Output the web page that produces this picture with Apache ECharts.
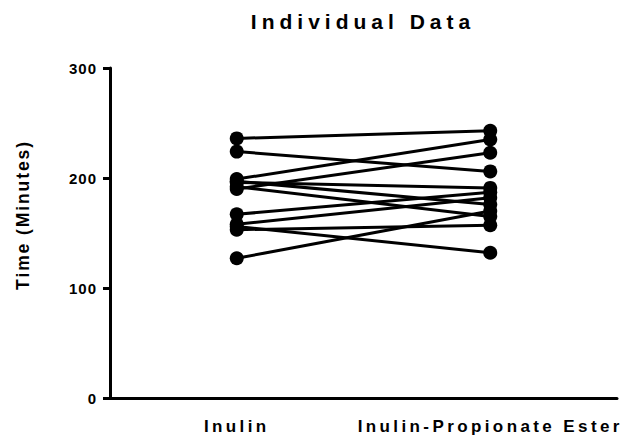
<!DOCTYPE html>
<html>
<head>
<meta charset="utf-8">
<script src="https://cdn.jsdelivr.net/npm/echarts@6/dist/echarts.min.js"></script>
<style>
  html, body { margin: 0; padding: 0; background: #fff; }
  #chart { width: 625px; height: 439px; }
  /* wide tracking for each text group, keyed by its font size */
  #chart text[style*="21px"] { letter-spacing: 5px; }
  #chart text[style*="17.5px"] { letter-spacing: 1.9px; }
  #chart text[style*="17px"] { letter-spacing: 3.4px; }
  #chart text[style*="15px"] { letter-spacing: 1px; }
</style>
</head>
<body>
<div id="chart"></div>
<script>
// Paired measurements, one entry per participant
const categories = ['Inulin', 'Inulin-Propionate Ester'];
const inulinTimes = [236, 224, 199, 190, 196, 192, 197, 167, 158, 153, 156, 127];
const esterTimes  = [243, 206, 235, 223, 191, 165, 176, 187, 182, 157, 132, 170];
const yTicks = [0, 100, 200, 300];

const FONT = 'Liberation Sans, Arial, sans-serif';

const series = inulinTimes.map((v, i) => ({
  type: 'line',
  data: [v, esterTimes[i]],
  symbol: 'circle',
  symbolSize: 14,
  lineStyle: { color: '#000', width: 3 },
  itemStyle: { color: '#000' },
  animation: false,
  z: 3
}));

const chart = echarts.init(document.getElementById('chart'), null, { renderer: 'svg' });
chart.setOption({
  backgroundColor: '#fff',
  title: {
    text: 'Individual Data',
    left: 358,
    top: 6,
    textAlign: 'center',
    textStyle: { fontFamily: FONT, fontSize: 21, fontWeight: 'bold', color: '#000' }
  },
  grid: { left: 110, right: 8, top: 68, bottom: 41 },
  xAxis: {
    type: 'category',
    data: categories,
    boundaryGap: true,
    axisLine: { lineStyle: { color: '#000', width: 3 } },
    axisTick: { alignWithLabel: true, length: 6, lineStyle: { color: '#000', width: 3 } },
    axisLabel: { margin: 20, fontFamily: FONT, fontSize: 17, fontWeight: 'bold', color: '#000' }
  },
  yAxis: {
    type: 'value',
    min: yTicks[0],
    max: yTicks[yTicks.length - 1],
    interval: yTicks[1] - yTicks[0],
    name: 'Time (Minutes)',
    nameLocation: 'middle',
    nameGap: 78,
    nameTextStyle: { fontFamily: FONT, fontSize: 17.5, fontWeight: 'bold', color: '#000', padding: [0, 0, 0, 36] },
    splitLine: { show: false },
    axisLine: { show: true, lineStyle: { color: '#000', width: 3 } },
    axisTick: { show: true, length: 7, lineStyle: { color: '#000', width: 3 } },
    axisLabel: { margin: 13, fontFamily: FONT, fontSize: 15, fontWeight: 'bold', color: '#000' }
  },
  series: series
});
</script>
</body>
</html>
